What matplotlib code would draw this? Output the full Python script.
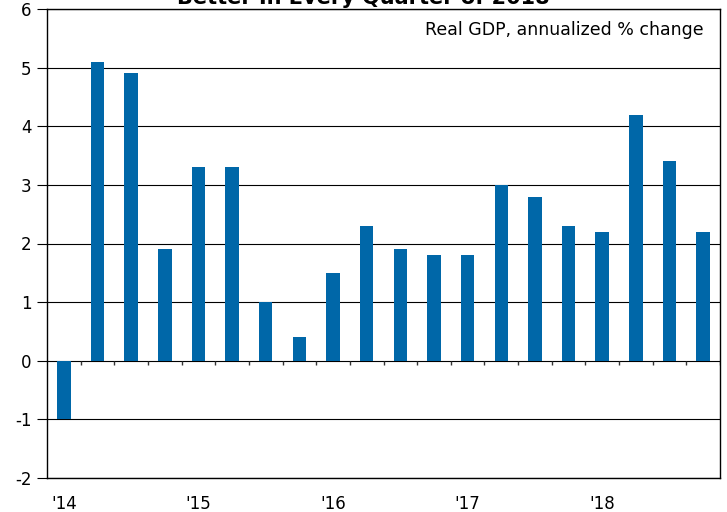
import numpy as np
import matplotlib.pyplot as plt

quarters = ['14Q1', '14Q2', '14Q3', '14Q4', '15Q1', '15Q2', '15Q3', '15Q4',
            '16Q1', '16Q2', '16Q3', '16Q4', '17Q1', '17Q2', '17Q3', '17Q4',
            '18Q1', '18Q2', '18Q3', '18Q4']
gdp = [-1.0, 5.1, 4.9, 1.9, 3.3, 3.3, 1.0, 0.4,
       1.5, 2.3, 1.9, 1.8, 1.8, 3.0, 2.8, 2.3,
       2.2, 4.2, 3.4, 2.2]
year_labels = ["'14", "'15", "'16", "'17", "'18"]

plt.rcParams['font.family'] = 'DejaVu Sans'

fig = plt.figure(figsize=(7.27, 5.12), dpi=100)
ax = fig.add_axes([47/727, 34/512, 673/727, 469/512])

x = np.arange(len(quarters))
ax.bar(x, gdp, width=0.4, color='#0067A8', zorder=3)

ax.set_xlim(-0.5, len(quarters) - 0.5)
ax.set_ylim(-2, 6)
ax.set_yticks(range(-2, 7))
ax.set_yticklabels([str(v) for v in range(-2, 7)], fontsize=12)
ax.yaxis.grid(True, color='black', linewidth=0.8, zorder=1)
ax.tick_params(axis='y', length=7, width=0.8, pad=4)

ax.set_xticks(x[::4])
ax.set_xticklabels(year_labels, fontsize=12)
ax.tick_params(axis='x', length=0, pad=12)

# small ticks on the zero line between quarters
ax.vlines(x[1:] - 0.5, -0.08, 0, color='#333333', linewidth=1, zorder=4)
ax.vlines([len(quarters) - 0.5], -0.08, 0, color='#333333', linewidth=1, zorder=4)

for s in ax.spines.values():
    s.set_linewidth(1.0)
    s.set_color('black')

ax.text(0.975, 0.955, 'Real GDP, annualized % change', transform=ax.transAxes,
        ha='right', va='center', fontsize=12.5)

fig.text(0.5, 1 - 4/512, 'Better In Every Quarter of 2018', ha='center',
         va='baseline', fontsize=15, fontweight='bold')

fig.savefig('out.png', dpi=100)
